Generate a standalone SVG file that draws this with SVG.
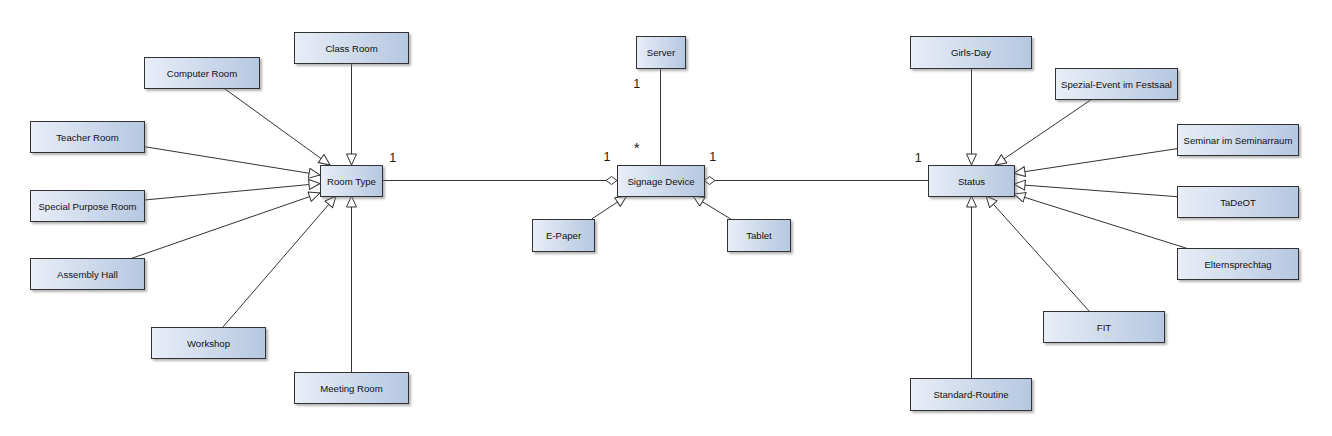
<svg xmlns="http://www.w3.org/2000/svg" width="1332" height="436" viewBox="0 0 1332 436">
<defs>
<linearGradient id="g" x1="0" y1="0" x2="1" y2="0">
<stop offset="0" stop-color="#e9eef7"/>
<stop offset="1" stop-color="#b5c7e1"/>
</linearGradient>
<filter id="sh" x="-10%" y="-20%" width="130%" height="160%">
<feDropShadow dx="2" dy="2" stdDeviation="1.2" flood-color="#777" flood-opacity="0.55"/>
</filter>
<marker id="gen" markerUnits="userSpaceOnUse" markerWidth="13" markerHeight="12" refX="12" refY="5.5" orient="auto" viewBox="0 0 13 12">
<path d="M1,0.5 L12,5.5 L1,10.5 Z" fill="#fff" stroke="#333" stroke-width="1"/>
</marker>
</defs>
<style>
.n rect{fill:url(#g);stroke:#333;stroke-width:1;filter:url(#sh)}
.n text{font-family:"Liberation Sans",Arial,sans-serif;font-size:9.6px;fill:#111;text-anchor:middle}
.c path{fill:none;stroke:#333;stroke-width:1}
.c path.g{marker-end:url(#gen)}
.c path.d{fill:#fff}
.m{font-family:"Liberation Sans",Arial,sans-serif;font-size:12.5px;fill:#1a1a1a;text-anchor:middle}
</style>
<rect width="1332" height="436" fill="#fff"/>
<g id="connectors" class="c">
<path class="g" d="M351.5,63.5 V165"/>
<path class="g" d="M224.3,88.5 L330,165"/>
<path class="g" d="M144.5,146.7 L320,175"/>
<path class="g" d="M144.5,200 L320,183.5"/>
<path class="g" d="M131.7,258.3 L320,193"/>
<path class="g" d="M222.7,327.3 L336,196"/>
<path class="g" d="M351.5,372 V196"/>
<path d="M382,180.5 H606"/>
<path class="d" d="M617,180.5 L611.5,176.5 L606,180.5 L611.5,184.5 Z"/>
<path d="M660.5,68.5 V165"/>
<path class="g" d="M591.7,219 L626.7,196"/>
<path class="g" d="M730.7,219 L693,196"/>
<path class="d" d="M704,180.5 L709.5,176.5 L715,180.5 L709.5,184.5 Z"/>
<path d="M715,180.5 H928"/>
<path class="g" d="M971.5,68.5 V165"/>
<path class="g" d="M1091.7,99.3 L995,165"/>
<path class="g" d="M1177,148.7 L1014,173.3"/>
<path class="g" d="M1177,196.7 L1014,184.3"/>
<path class="g" d="M1186.7,248.3 L1014,194"/>
<path class="g" d="M1089.3,311.3 L986,196"/>
<path class="g" d="M971.5,378 V196"/>
</g>
<g id="multiplicities">
<text class="m" x="392.7" y="161.5">1</text>
<text class="m" x="636.7" y="88">1</text>
<text class="m" x="636.7" y="152.6" style="font-size:15px">*</text>
<text class="m" x="607" y="161.2">1</text>
<text class="m" x="712.7" y="161.2">1</text>
<text class="m" x="918.3" y="161.8">1</text>
</g>
<g id="class-room" class="n"><rect x="294.5" y="32.5" width="114" height="31"/><text x="351.5" y="51.5">Class Room</text></g>
<g id="computer-room" class="n"><rect x="144.5" y="57.5" width="115" height="31"/><text x="202" y="76.5">Computer Room</text></g>
<g id="teacher-room" class="n"><rect x="30.5" y="121.5" width="114" height="31"/><text x="87.5" y="140.5">Teacher Room</text></g>
<g id="special-purpose-room" class="n"><rect x="30.5" y="190.5" width="114" height="31"/><text x="87.5" y="209.5">Special Purpose Room</text></g>
<g id="assembly-hall" class="n"><rect x="30.5" y="258.5" width="114" height="31"/><text x="87.5" y="277.5">Assembly Hall</text></g>
<g id="workshop" class="n"><rect x="151.5" y="327.5" width="114" height="31"/><text x="208.5" y="346.5">Workshop</text></g>
<g id="meeting-room" class="n"><rect x="294.5" y="372.5" width="114" height="31"/><text x="351.5" y="391.5">Meeting Room</text></g>
<g id="room-type" class="n"><rect x="320.5" y="165.5" width="62" height="31"/><text x="351.5" y="184.5">Room Type</text></g>
<g id="server" class="n"><rect x="636.5" y="36.5" width="49" height="32"/><text x="661" y="56">Server</text></g>
<g id="signage-device" class="n"><rect x="617.5" y="165.5" width="87" height="31"/><text x="661" y="184.5">Signage Device</text></g>
<g id="e-paper" class="n"><rect x="532.5" y="219.5" width="62" height="32"/><text x="563.5" y="239">E-Paper</text></g>
<g id="tablet" class="n"><rect x="727.5" y="219.5" width="63" height="32"/><text x="759" y="239">Tablet</text></g>
<g id="girls-day" class="n"><rect x="910.5" y="36.5" width="121" height="32"/><text x="971" y="56">Girls-Day</text></g>
<g id="spezial-event" class="n"><rect x="1055.5" y="68.5" width="122" height="31"/><text x="1116.5" y="87.5">Spezial-Event im Festsaal</text></g>
<g id="seminar" class="n"><rect x="1177.5" y="124.5" width="121" height="31"/><text x="1238" y="143.5">Seminar im Seminarraum</text></g>
<g id="status" class="n"><rect x="928.5" y="165.5" width="86" height="31"/><text x="971.5" y="184.5">Status</text></g>
<g id="tadeot" class="n"><rect x="1177.5" y="186.5" width="121" height="31"/><text x="1238" y="205.5">TaDeOT</text></g>
<g id="elternsprechtag" class="n"><rect x="1177.5" y="248.5" width="121" height="31"/><text x="1238" y="267.5">Elternsprechtag</text></g>
<g id="fit" class="n"><rect x="1043.5" y="311.5" width="121" height="31"/><text x="1104" y="330.5">FIT</text></g>
<g id="standard-routine" class="n"><rect x="910.5" y="378.5" width="121" height="32"/><text x="971" y="398">Standard-Routine</text></g>
</svg>
